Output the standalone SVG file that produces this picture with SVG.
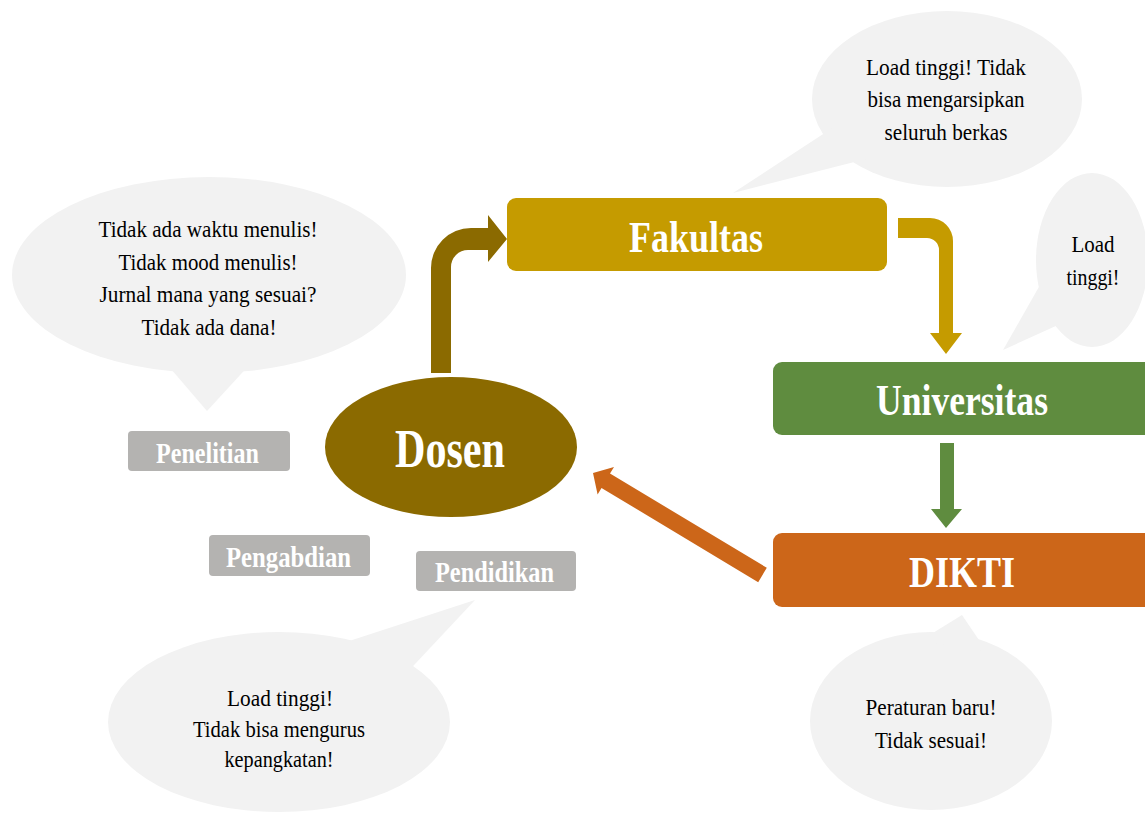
<svg xmlns="http://www.w3.org/2000/svg" width="1145" height="814" viewBox="0 0 1145 814">
<style>
.bub{fill:#F2F2F2}
.bt{font-family:"Liberation Serif","Times New Roman",serif;font-size:23px;fill:#000;text-anchor:middle}
.big{font-family:"Liberation Serif","Times New Roman",serif;font-weight:bold;fill:#fff;text-anchor:middle}
.tag{fill:#B4B3B1}
.tt{font-family:"Liberation Serif","Times New Roman",serif;font-weight:bold;font-size:29px;fill:#fff;text-anchor:middle}
</style>
<rect width="1145" height="814" fill="#fff"/>

<g id="bubble-left">
<ellipse class="bub" cx="209" cy="275" rx="197" ry="98"/>
<polygon class="bub" points="165,362 207,411 252,362"/>
<text class="bt" x="208" y="237" textLength="219" lengthAdjust="spacingAndGlyphs">Tidak ada waktu menulis!</text>
<text class="bt" x="208" y="270" textLength="179" lengthAdjust="spacingAndGlyphs">Tidak mood menulis!</text>
<text class="bt" x="208" y="302" textLength="217" lengthAdjust="spacingAndGlyphs">Jurnal mana yang sesuai?</text>
<text class="bt" x="209" y="335" textLength="135" lengthAdjust="spacingAndGlyphs">Tidak ada dana!</text>
</g>

<g id="bubble-top">
<ellipse class="bub" cx="947" cy="99" rx="135" ry="88"/>
<polygon class="bub" points="733,193 840,123 870,158"/>
<text class="bt" x="946" y="75" textLength="160" lengthAdjust="spacingAndGlyphs">Load tinggi! Tidak</text>
<text class="bt" x="946" y="107" textLength="157" lengthAdjust="spacingAndGlyphs">bisa mengarsipkan</text>
<text class="bt" x="946" y="140" textLength="123" lengthAdjust="spacingAndGlyphs">seluruh berkas</text>
</g>

<g id="bubble-right">
<ellipse class="bub" cx="1092" cy="260" rx="56" ry="87"/>
<polygon class="bub" points="1040,285 1003,350 1058,325"/>
<text class="bt" x="1093" y="252" textLength="43" lengthAdjust="spacingAndGlyphs">Load</text>
<text class="bt" x="1093" y="285" textLength="53" lengthAdjust="spacingAndGlyphs">tinggi!</text>
</g>

<g id="bubble-bottom-left">
<ellipse class="bub" cx="279" cy="722" rx="171" ry="90"/>
<polygon class="bub" points="340,644 475,600 400,680"/>
<text class="bt" x="280" y="706" textLength="106" lengthAdjust="spacingAndGlyphs">Load tinggi!</text>
<text class="bt" x="279" y="737" textLength="172" lengthAdjust="spacingAndGlyphs">Tidak bisa mengurus</text>
<text class="bt" x="279" y="767" textLength="109" lengthAdjust="spacingAndGlyphs">kepangkatan!</text>
</g>

<g id="bubble-bottom-right">
<ellipse class="bub" cx="931" cy="721" rx="121" ry="89"/>
<polygon class="bub" points="920,641 962,615 987,652"/>
<text class="bt" x="931" y="715" textLength="131" lengthAdjust="spacingAndGlyphs">Peraturan baru!</text>
<text class="bt" x="931" y="748" textLength="112" lengthAdjust="spacingAndGlyphs">Tidak sesuai!</text>
</g>

<g id="connectors">
<path fill="#8B6A00" d="M431,373 L431,268 A40,40 0 0 1 471,228 L488,228 L488,215 L507,239 L488,262 L488,250 L468,250 A17,17 0 0 0 451,267 L451,373 Z"/>
<path fill="#C59B00" d="M898,218 L930,218 A23,23 0 0 1 953,241 L953,333 L962,333 L946,354 L930,333 L939,333 L939,250 A12,12 0 0 0 927,238 L898,238 Z"/>
<polygon fill="#5F8C3F" points="940,443 954,443 954,509 962,509 946,528 931,509 940,509"/>
<polygon fill="#CC6619" points="593,473 614,467 610,473.5 766.8,567.8 758.2,582.2 601.5,487.9 597.6,494.4"/>
</g>

<g id="node-fakultas">
<rect x="507" y="198" width="380" height="73" rx="9" fill="#C59B00"/>
<text class="big" x="696" y="252" font-size="44" textLength="134" lengthAdjust="spacingAndGlyphs">Fakultas</text>
</g>

<g id="node-universitas">
<rect x="773" y="362" width="380" height="73" rx="9" fill="#5F8C3F"/>
<text class="big" x="962" y="415" font-size="44" textLength="172" lengthAdjust="spacingAndGlyphs">Universitas</text>
</g>

<g id="node-dikti">
<rect x="773" y="533" width="380" height="74" rx="9" fill="#CC6619"/>
<text class="big" x="962" y="587" font-size="44" textLength="106" lengthAdjust="spacingAndGlyphs">DIKTI</text>
</g>

<g id="node-dosen">
<ellipse cx="451" cy="447" rx="126" ry="70" fill="#8B6A00"/>
<text class="big" x="450" y="467" font-size="54" textLength="110" lengthAdjust="spacingAndGlyphs">Dosen</text>
</g>

<g id="node-penelitian">
<rect class="tag" x="128" y="431" width="162" height="40" rx="4"/>
<text class="tt" x="207.5" y="463" textLength="103" lengthAdjust="spacingAndGlyphs">Penelitian</text>
</g>

<g id="node-pengabdian">
<rect class="tag" x="209" y="535" width="161" height="41" rx="4"/>
<text class="tt" x="288.5" y="567" textLength="125" lengthAdjust="spacingAndGlyphs">Pengabdian</text>
</g>

<g id="node-pendidikan">
<rect class="tag" x="416" y="551" width="160" height="40" rx="4"/>
<text class="tt" x="494.5" y="582" textLength="119" lengthAdjust="spacingAndGlyphs">Pendidikan</text>
</g>
</svg>
